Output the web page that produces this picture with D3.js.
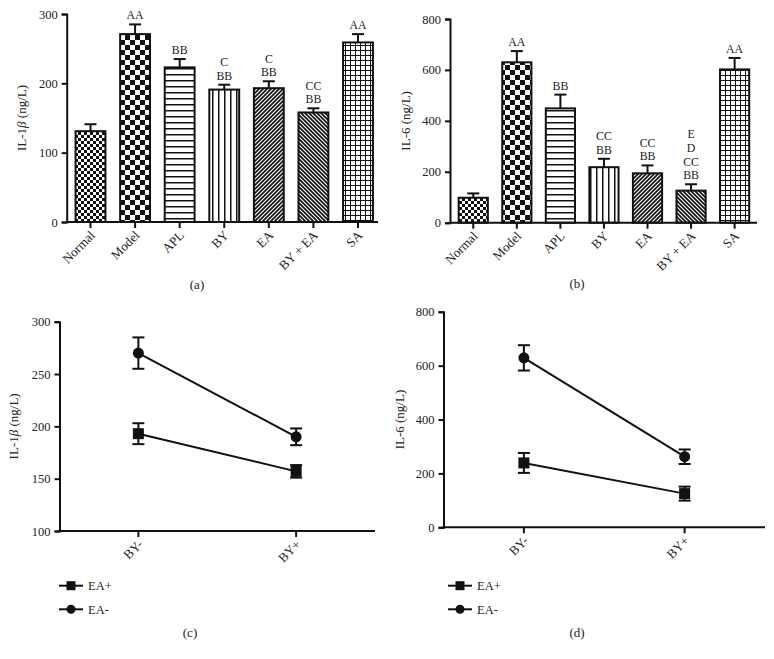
<!DOCTYPE html>
<html><head><meta charset="utf-8">
<script src="https://cdn.jsdelivr.net/npm/d3@7"></script>
<style>
body{margin:0;background:#fff;}
svg text{font-family:"Liberation Serif","Times New Roman",serif;fill:#222;}
</style></head>
<body><svg id="c" width="774" height="659"></svg>
<script>
// ---------- DATA ----------
const groups = ["Normal","Model","APL","BY","EA","BY + EA","SA"];
const il1bMean = [131,271,223,191,193,158,259];
const il1bErr  = [10,14,12,7,10,6,12];
const il1bSig  = [[],["AA"],["BB"],["C","BB"],["C","BB"],["CC","BB"],["AA"]];
const il1bTicks = [0,100,200,300];

const il6Mean = [98,630,449,218,194,126,602];
const il6Err  = [17,44,54,33,31,25,45];
const il6Sig  = [[],["AA"],["BB"],["CC","BB"],["CC","BB"],["E","D","CC","BB"],["AA"]];
const il6Ticks = [0,200,400,600,800];

const byLevels = ["BY-","BY+"];
const seriesNames = ["EA+","EA-"];
const il1bEAplus = [193,157], il1bEAplusErr = [10,6];
const il1bEAminus = [270,190], il1bEAminusErr = [15,8];
const il1bLineTicks = [100,150,200,250,300];
const il6EAplus = [239,125], il6EAplusErr = [37,26];
const il6EAminus = [629,262], il6EAminusErr = [47,27];
const il6LineTicks = [0,200,400,600,800];

const patternIds = ["pCheckSmall","pCheckBig","pHoriz","pVert","pDiagF","pDiagB","pGrid"];

// ---------- PATTERNS ----------
const svg = d3.select("#c");
const defs = svg.append("defs");
function pat(id,w,h){
  const p = defs.append("pattern").attr("id",id).attr("patternUnits","userSpaceOnUse")
    .attr("width",w).attr("height",h);
  p.append("rect").attr("width",w).attr("height",h).attr("fill","#fff");
  return p;
}
let p = pat("pCheckSmall",6,6);
p.append("rect").attr("x",0).attr("y",0).attr("width",3).attr("height",3).attr("fill","#111");
p.append("rect").attr("x",3).attr("y",3).attr("width",3).attr("height",3).attr("fill","#111");
p = pat("pCheckBig",10,10);
p.append("rect").attr("x",0).attr("y",0).attr("width",5).attr("height",5).attr("fill","#111");
p.append("rect").attr("x",5).attr("y",5).attr("width",5).attr("height",5).attr("fill","#111");
p = pat("pHoriz",6,6);
p.append("rect").attr("x",0).attr("y",2).attr("width",6).attr("height",1.5).attr("fill","#111");
p = pat("pVert",6,6);
p.append("rect").attr("x",2).attr("y",0).attr("width",1.5).attr("height",6).attr("fill","#111");
p = pat("pDiagF",4,4);
p.append("path").attr("d","M-1,1 L1,-1 M0,4 L4,0 M3,5 L5,3").attr("stroke","#111").attr("stroke-width",1.7);
p = pat("pDiagB",4,4);
p.append("path").attr("d","M-1,3 L1,5 M0,0 L4,4 M3,-1 L5,1").attr("stroke","#111").attr("stroke-width",1.7);
p = pat("pGrid",5,5);
p.append("rect").attr("x",0).attr("y",0).attr("width",5).attr("height",1).attr("fill","#111");
p.append("rect").attr("x",0).attr("y",0).attr("width",1).attr("height",5).attr("fill","#111");

// ---------- HELPERS ----------
function yAxis(g, y, x0, ticks, titleX){
  g.append("g").attr("transform",`translate(${x0},0)`)
    .call(d3.axisLeft(y).tickValues(ticks).tickSize(5).tickPadding(4).tickFormat(d3.format("d")))
    .call(a=>{a.select(".domain").attr("stroke","#111").attr("stroke-width",2);
      a.selectAll(".tick line").attr("stroke","#111").attr("stroke-width",2);
      a.selectAll(".tick text").attr("font-size",12.5).attr("font-family","Liberation Serif");});
  const [r0,r1] = y.range();
  return g.append("text").attr("transform",`translate(${titleX},${(r0+r1)/2}) rotate(-90)`)
    .attr("text-anchor","middle").attr("font-size",13);
}
function titleIL1b(t){ t.append("tspan").text("IL-1"); t.append("tspan").attr("font-style","italic").text("β"); t.append("tspan").text(" (ng/L)"); }
function xAxis(g, x, yPos, xEnd){
  const x0 = x.range()[0];
  g.append("line").attr("x1",x0-1).attr("x2",xEnd).attr("y1",yPos).attr("y2",yPos)
    .attr("stroke","#111").attr("stroke-width",2);
  const cx = d=> x.bandwidth ? x(d)+x.bandwidth()/2 : x(d);
  const tk = g.selectAll(".xt").data(x.domain()).join("g").attr("transform",d=>`translate(${cx(d)},${yPos})`);
  tk.append("line").attr("y2",6).attr("stroke","#111").attr("stroke-width",2);
  tk.append("text").attr("transform","translate(2,11) rotate(-45)").attr("text-anchor","end")
    .attr("dy","0.35em").attr("font-size",13).text(d=>d);
}
function caption(g, x, y, s){ g.append("text").attr("x",x).attr("y",y).attr("text-anchor","middle").attr("font-size",13).text(s); }

// ---------- BAR PANELS ----------
function barPanel(cfg){
  const g = svg.append("g");
  const y = d3.scaleLinear().domain(cfg.domain).range(cfg.yRange);
  const x = d3.scaleBand().domain(groups).range(cfg.xRange).paddingInner(0.33).paddingOuter(0.165);
  const base = y(0);
  g.selectAll(".bar").data(groups).join("rect")
    .attr("x",d=>x(d)).attr("width",x.bandwidth())
    .attr("y",(d,i)=>y(cfg.mean[i])).attr("height",(d,i)=>base-y(cfg.mean[i]))
    .attr("fill",(d,i)=>`url(#${patternIds[i]})`).attr("stroke","#111").attr("stroke-width",2);
  const eb = g.selectAll(".eb").data(groups).join("g");
  eb.append("line").attr("x1",d=>x(d)+x.bandwidth()/2).attr("x2",d=>x(d)+x.bandwidth()/2)
    .attr("y1",(d,i)=>y(cfg.mean[i])).attr("y2",(d,i)=>y(cfg.mean[i]+cfg.err[i]))
    .attr("stroke","#111").attr("stroke-width",2);
  eb.append("line").attr("x1",d=>x(d)+x.bandwidth()/2-6).attr("x2",d=>x(d)+x.bandwidth()/2+6)
    .attr("y1",(d,i)=>y(cfg.mean[i]+cfg.err[i])).attr("y2",(d,i)=>y(cfg.mean[i]+cfg.err[i]))
    .attr("stroke","#111").attr("stroke-width",2);
  groups.forEach((d,i)=>{
    const lines = cfg.sig[i];
    if(!lines.length) return;
    const top = y(cfg.mean[i]+cfg.err[i]);
    const cx = x(d)+x.bandwidth()/2;
    lines.forEach((s,k)=>{
      g.append("text").attr("text-anchor","middle").attr("font-size",11.8)
        .attr("x",cx).attr("y",top-5-(lines.length-1-k)*13.6).text(s);
    });
  });
  xAxis(g, x, base, cfg.xEnd);
  cfg.title(yAxis(g, y, cfg.xRange[0]-1.5, cfg.ticks, cfg.titleX));
  caption(g, cfg.capX, cfg.capY, cfg.cap);
}
barPanel({domain:[0,300], yRange:[222,14], xRange:[68.2,380.3], xEnd:378, mean:il1bMean, err:il1bErr, sig:il1bSig,
  ticks:il1bTicks, titleX:26, title:titleIL1b, capX:197, capY:289, cap:"(a)"});
barPanel({domain:[0,800], yRange:[222.7,19], xRange:[451.5,756.4], xEnd:757, mean:il6Mean, err:il6Err, sig:il6Sig,
  ticks:il6Ticks, titleX:410, title:t=>t.text("IL-6 (ng/L)"), capX:577, capY:288, cap:"(b)"});

// ---------- LINE PANELS ----------
function linePanel(cfg){
  const g = svg.append("g");
  const y = d3.scaleLinear().domain(cfg.domain).range(cfg.yRange);
  const x = d3.scalePoint().domain(byLevels).range(cfg.xRange).padding(0.5);
  const series = [
    {name:seriesNames[0], v:cfg.plus, e:cfg.plusErr, shape:"square"},
    {name:seriesNames[1], v:cfg.minus, e:cfg.minusErr, shape:"circle"}];
  const line = d3.line().x((d,i)=>x(byLevels[i])).y(d=>y(d));
  series.forEach(s=>{
    g.append("path").attr("d",line(s.v)).attr("fill","none").attr("stroke","#111").attr("stroke-width",2);
    s.v.forEach((v,i)=>{
      const cx = x(byLevels[i]);
      const y1 = y(v+s.e[i]), y2 = y(v-s.e[i]);
      g.append("line").attr("x1",cx).attr("x2",cx).attr("y1",y1).attr("y2",y2).attr("stroke","#111").attr("stroke-width",2);
      [y1,y2].forEach(yy=>g.append("line").attr("x1",cx-6).attr("x2",cx+6).attr("y1",yy).attr("y2",yy).attr("stroke","#111").attr("stroke-width",2));
      if(s.shape==="square") g.append("rect").attr("x",cx-5.5).attr("y",y(v)-5.5).attr("width",11).attr("height",11).attr("fill","#111");
      else g.append("circle").attr("cx",cx).attr("cy",y(v)).attr("r",5.5).attr("fill","#111");
    });
  });
  xAxis(g, x, y.range()[0], cfg.xRange[1]);
  cfg.title(yAxis(g, y, cfg.xRange[0], cfg.ticks, cfg.titleX));
  series.forEach((s,k)=>{
    const ly = cfg.legY + k*23.6;
    const lx = cfg.legX;
    g.append("line").attr("x1",lx).attr("x2",lx+24).attr("y1",ly).attr("y2",ly).attr("stroke","#111").attr("stroke-width",2);
    if(s.shape==="square") g.append("rect").attr("x",lx+12-4.5).attr("y",ly-4.5).attr("width",9).attr("height",9).attr("fill","#111");
    else g.append("circle").attr("cx",lx+12).attr("cy",ly).attr("r",4.5).attr("fill","#111");
    g.append("text").attr("x",lx+29).attr("y",ly).attr("dy","0.35em").attr("font-size",12.5).text(s.name);
  });
  caption(g, cfg.capX, cfg.capY, cfg.cap);
}
linePanel({domain:[100,300], yRange:[531,321.7], xRange:[59.5,375], ticks:il1bLineTicks,
  plus:il1bEAplus, plusErr:il1bEAplusErr, minus:il1bEAminus, minusErr:il1bEAminusErr,
  titleX:18, title:titleIL1b, legX:59, legY:585.7, capX:190, capY:637, cap:"(c)"});
linePanel({domain:[0,800], yRange:[527.3,311.8], xRange:[443.5,765], ticks:il6LineTicks,
  plus:il6EAplus, plusErr:il6EAplusErr, minus:il6EAminus, minusErr:il6EAminusErr,
  titleX:404, title:t=>t.text("IL-6 (ng/L)"), legX:448, legY:585.7, capX:577, capY:637, cap:"(d)"});
</script></body></html>
